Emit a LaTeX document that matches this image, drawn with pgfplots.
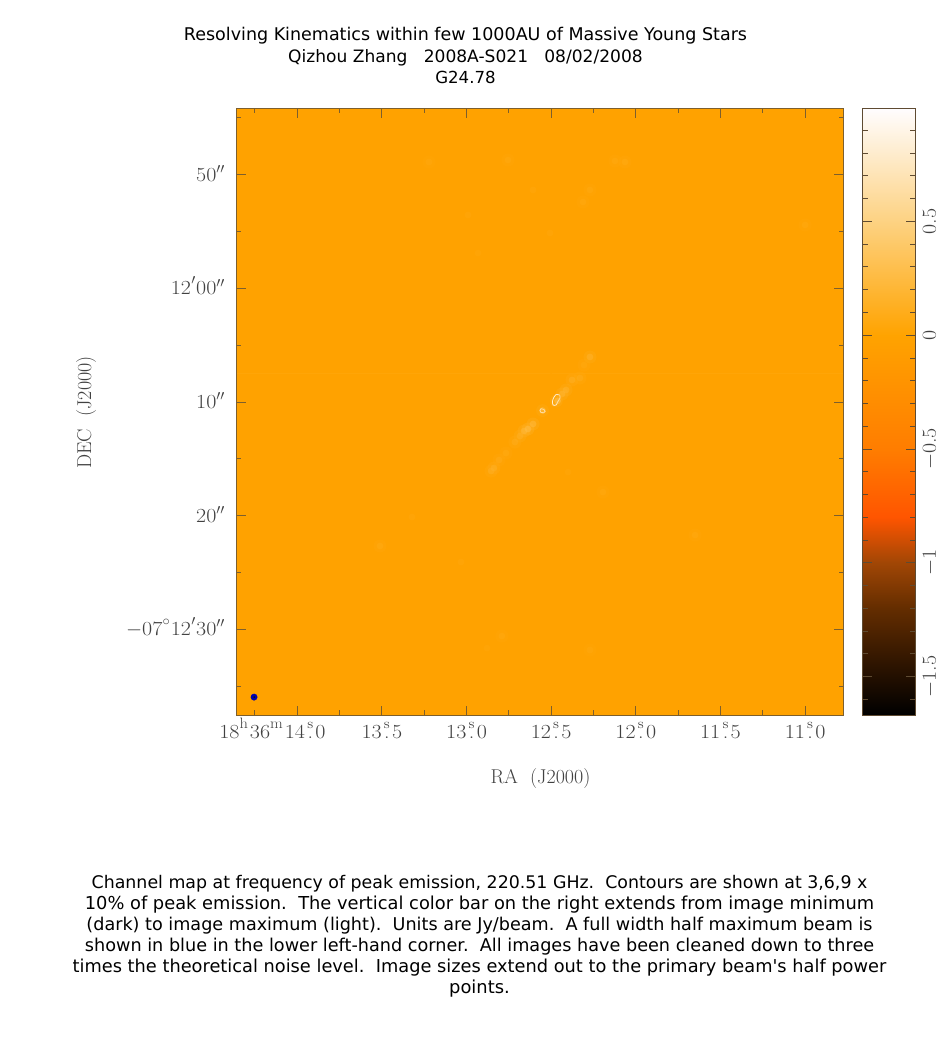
\documentclass[border=0pt]{standalone}
\usepackage{fontspec}
\usepackage{pgfplots}
\pgfplotsset{compat=1.18}
\newfontfamily\dv{DejaVu Sans}
\newfontfamily\hf{Latin Modern Roman}[FakeStretch=1.1]
\newfontfamily\hg{Latin Modern Roman}
\definecolor{axc}{RGB}{125,95,45}
\definecolor{barc}{RGB}{95,75,50}
\definecolor{lab}{RGB}{65,65,65}
\newcommand\hs{\hf\fontsize{20}{22}\selectfont}
\newcommand\sd{\makebox[.52em]{\makebox[0pt]{.}\makebox[0pt]{\smash{\raisebox{.5em}{\fontsize{14}{14}\selectfont s}}}}}
\newcommand\sx[1]{\smash{\raisebox{.5em}{\fontsize{15}{15}\selectfont #1}}}
\newcommand\asec{\smash{\makebox[.42em]{$^{\prime\prime}$}}}
\newcommand\amin{\smash{\raisebox{.12em}{\makebox[.26em]{$^{\prime}$}}}}
\newcommand\adeg{\smash{\raisebox{.1em}{\makebox[.42em]{$^{\circ}$}}}}
\pgfplotsset{
  colormap={astro}{
    rgb255(0cm)=(0,0,0) rgb255(22cm)=(45,20,0) rgb255(47cm)=(100,45,0)
    rgb255(67cm)=(160,70,5) rgb255(87cm)=(255,85,0) rgb255(117cm)=(255,125,0)
    rgb255(167cm)=(255,163,0) rgb255(217cm)=(253,210,130) rgb255(267cm)=(255,253,255)},
  colormap name=astro}
\begin{document}
\begin{tikzpicture}[x=1pt,y=1pt]
\useasboundingbox (0,0) rectangle (939,-1056);
\begin{axis}[
  at={(236.3pt,-715.3pt)}, anchor=south west, scale only axis,
  width=607.4pt, height=607pt, axis on top,
  x dir=reverse, xmin=10.772, xmax=14.36, ymin=-37.55, ymax=15.83,
  point meta min=-1.67, point meta max=0.997,
  axis line style={axc,line width=1pt},
  tick style={axc,line width=.9pt},
  major tick length=9.3pt, minor tick length=5pt,
  tick align=inside, tick pos=both,
  xtick={14,13.5,13,12.5,12,11.5,11},
  minor xtick={14.25,13.75,13.25,12.75,12.25,11.75,11.25},
  xticklabels={\hspace*{16pt}\llap{18\sx{h}\hspace{.1em}36\sx{m}\hspace{.1em}}14\sd0,13\sd5,13\sd0,12\sd5,12\sd0,11\sd5,11\sd0},
  ytick={-30,-20,-10,0,10},
  minor ytick={-35,-25,-15,-5,5,15},
  yticklabels={$-$07\adeg12\amin30\asec,20\asec,10\asec,12\amin00\asec,50\asec},
  ticklabel style={font=\hs,text=lab},
  xticklabel pos=lower, yticklabel pos=left,
  xticklabel style={yshift=-6pt},
  yticklabel style={xshift=-8pt},
]
\addplot[matrix plot*, mesh/cols=2, point meta=explicit] coordinates {
 (11,-25)[-0.015] (14,-25)[-0.015]
 (11,10)[-0.015] (14,10)[-0.015]};
\addplot[scatter, only marks, mark=*, mark size=6.5pt, point meta=explicit,
  scatter/use mapped color={draw=none, fill=mapped color}, fill opacity=.22, draw opacity=0] coordinates {
 (12.271,-6.04)[.15] (12.306,-6.75)[.08] (12.330,-7.89)[.10] (12.377,-8.06)[.12]
 (12.412,-8.94)[.16] (12.436,-9.30)[.18] (12.470,-9.90)[.20] (12.551,-10.75)[.14]
 (12.607,-11.93)[.20] (12.637,-12.37)[.24] (12.660,-12.55)[.20] (12.684,-12.99)[.14]
 (12.714,-13.52)[.10] (12.767,-14.49)[.08] (12.808,-15.10)[.08] (12.838,-15.80)[.12]
 (12.855,-16.07)[.10]
 (12.064,11.11)[.08] (12.123,11.20)[.06] (12.271,8.65)[.06] (12.312,7.59)[.06]
 (12.755,11.28)[.06] (13.222,11.11)[.05] (13.511,-22.66)[.07] (12.791,-30.58)[.06]
 (12.194,-17.92)[.06] (12.271,-31.81)[.05] (11.650,-21.70)[.06] (11.000,5.57)[.06]};
\addplot[scatter, only marks, mark=*, mark size=3.4pt, point meta=explicit,
  scatter/use mapped color={draw=none, fill=mapped color}, fill opacity=.4, draw opacity=0] coordinates {
 (12.064,11.11)[.10] (12.123,11.20)[.08] (12.271,8.65)[.08] (12.312,7.59)[.08]
 (12.755,11.28)[.08] (13.222,11.11)[.07] (12.607,8.65)[.06] (12.991,6.45)[.06]
 (12.507,4.86)[.06] (12.932,3.10)[.05] (13.511,-22.66)[.10] (13.322,-20.11)[.06]
 (13.033,-24.07)[.06] (12.791,-30.58)[.08] (12.194,-17.92)[.08] (12.271,-31.81)[.07]
 (12.879,-31.64)[.05] (12.400,-16.16)[.05] (11.650,-21.70)[.08] (11.000,5.57)[.08]
 (12.271,-6.04)[.22] (12.306,-6.75)[.08] (12.330,-7.89)[.14] (12.377,-8.06)[.18]
 (12.412,-8.94)[.22] (12.436,-9.30)[.24]
 (12.607,-11.93)[.30] (12.637,-12.37)[.34] (12.660,-12.55)[.28] (12.684,-12.99)[.18]
 (12.714,-13.52)[.14] (12.767,-14.49)[.10] (12.808,-15.10)[.12] (12.838,-15.80)[.18]
 (12.855,-16.07)[.16]
 (12.462,-9.90)[.42] (12.551,-10.75)[.36]};
\addplot[white, line width=.8pt, smooth, tension=.5] coordinates {
 (12.471,-9.34) (12.451,-9.38) (12.448,-9.65) (12.462,-10.0) (12.471,-10.26)
 (12.489,-10.26) (12.492,-9.91) (12.483,-9.56) (12.471,-9.34)};
\addplot[white, line width=.8pt, smooth, tension=.5] coordinates {
 (12.560,-10.59) (12.542,-10.66) (12.536,-10.84) (12.545,-10.94) (12.560,-10.92)
 (12.566,-10.75) (12.560,-10.59)};
\addplot[only marks, mark=*, mark size=3.2pt, mark options={fill=blue!70!black, draw=blue!70!black}] coordinates {(14.255,-35.95)};
\addplot[only marks, mark=*, mark size=.8pt, mark options={fill=blue!45!white, draw=none}] coordinates {(14.255,-35.95)};
\end{axis}
\begin{axis}[
  at={(862.5pt,-715.3pt)}, anchor=south west, scale only axis,
  width=52.5pt, height=607pt, axis on top,
  xmin=0, xmax=1, ymin=-1.67, ymax=0.997,
  point meta min=-1.67, point meta max=0.997,
  axis line style={barc,line width=.9pt},
  tick style={barc,line width=.9pt},
  major tick length=9.3pt, minor tick length=5pt,
  tick align=inside,
  xtick=\empty, ytick pos=both, yticklabel pos=right,
  ytick={-1.5,-1,-.5,0,.5},
  yticklabels={$-$1.5,$-$1,$-$0.5,0,0.5},
  minor ytick={-1.6,-1.4,-1.3,-1.2,-1.1,-.9,-.8,-.7,-.6,-.4,-.3,-.2,-.1,.1,.2,.3,.4,.6,.7,.8,.9},
  ticklabel style={font=\hs,text=lab},
  yticklabel style={xshift=4pt, rotate=90, anchor=north},
]
\addplot[surf, shader=interp, mesh/cols=2, point meta=y] coordinates {
(0,-1.67)(1,-1.67)(0,-1.45)(1,-1.45)(0,-1.2)(1,-1.2)(0,-1)(1,-1)
(0,-0.8)(1,-0.8)(0,-0.5)(1,-0.5)(0,0)(1,0)(0,0.5)(1,0.5)(0,0.997)(1,0.997)};
\end{axis}
\node[anchor=base, font=\dv\fontsize{17.5}{17.5}\selectfont] at (465.5,-41) {Resolving Kinematics within few 1000AU of Massive Young Stars};
\node[anchor=base, font=\dv\fontsize{17.07}{17.07}\selectfont] at (465.5,-63) {Qizhou Zhang\ \ \ 2008A-S021\ \ \ 08/02/2008};
\node[anchor=base, font=\dv\fontsize{16.6}{16.6}\selectfont] at (465.5,-84) {G24.78};
\node[anchor=base, font=\hg\fontsize{20}{22}\selectfont, text=lab] at (540.5,-783) {RA\ \ (J2000)};
\node[anchor=base, font=\hg\fontsize{20}{22}\selectfont, text=lab, rotate=90] at (91,-412.5) {DEC\ \ (J2000)};
\foreach \yy/\ss/\tt in {
 888/17.38/{Channel map at frequency of peak emission, 220.51 GHz.\ \ Contours are shown at 3,6,9 x},
 909/17.83/{10\% of peak emission.\ \ The vertical color bar on the right extends from image minimum},
 930/17.6/{(dark) to image maximum (light).\ \ Units are Jy/beam.\ \ A full width half maximum beam is},
 951/17.65/{shown in blue in the lower left-hand corner.\ \ All images have been cleaned down to three},
 972/17.78/{times the theoretical noise level.\ \ Image sizes extend out to the primary beam's half power},
 993/17.9/{points.}}
 {\node[anchor=base, font=\dv\fontsize{\ss}{\ss}\selectfont] at (479.5,-\yy) {\tt};}
\end{tikzpicture}
\end{document}
